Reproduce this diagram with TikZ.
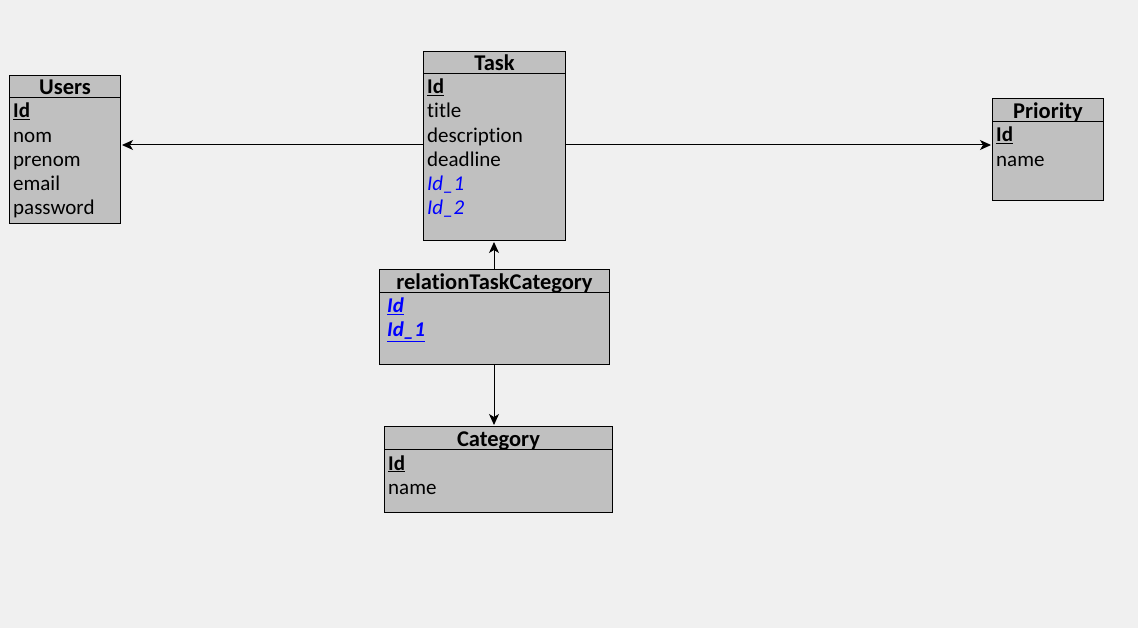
\documentclass[tikz,border=0pt]{standalone}
\usepackage{fontspec}
\setmainfont{Carlito}[Ligatures={NoCommon}]
\usetikzlibrary{arrows.meta}
\definecolor{bgcol}{HTML}{F0F0F0}
\definecolor{boxcol}{HTML}{C0C0C0}
\definecolor{fkcol}{HTML}{0000FF}
\tikzset{
  tbl/.style={draw=black,fill=boxcol,anchor=north west,inner sep=0pt,line width=1pt},
  ttl/.style={font=\fontsize{22.5}{24}\selectfont\bfseries,inner sep=0pt,anchor=base},
  fld/.style={font=\fontsize{21}{24}\selectfont,anchor=base west,inner sep=0pt},
  fk/.style={fld,text=fkcol},
  link/.style={draw=black,line width=1pt,shorten >=1pt,-{Stealth[length=11pt,width=10pt,inset=3pt]}}
}
\begin{document}
\begin{tikzpicture}[x=1pt,y=-1pt]
  \fill[bgcol] (0,0) rectangle (1138,628);
  \useasboundingbox (0,0) rectangle (1138,628);
  % Users
  \node[tbl,minimum width=111pt,minimum height=148pt] (users) at (9,75) {};
  \draw[line width=1pt] ([yshift=-23pt]users.north west) -- ([yshift=-23pt]users.north east);
  \node[ttl] (users-t) at ([yshift=-20pt]users.north) {Users};
  \node[fld] (users-1) at (13,118) {\underline{\textbf{Id}}};
  \node[fld] (users-2) at (13,143) {nom};
  \node[fld] (users-3) at (13,167) {prenom};
  \node[fld] (users-4) at (13,191) {email};
  \node[fld] (users-5) at (13,215) {password};
  % Task
  \node[tbl,minimum width=142pt,minimum height=189pt] (task) at (423,51) {};
  \draw[line width=1pt] ([yshift=-23pt]task.north west) -- ([yshift=-23pt]task.north east);
  \node[ttl] (task-t) at ([yshift=-20pt]task.north) {Task};
  \node[fld] (task-1) at (427,94) {\underline{\textbf{Id}}};
  \node[fld] (task-2) at (427,118) {title};
  \node[fld] (task-3) at (427,143) {description};
  \node[fld] (task-4) at (427,167) {deadline};
  \node[fk] (task-5) at (427,191) {\itshape Id\_1};
  \node[fk] (task-6) at (427,215) {\itshape Id\_2};
  % Priority
  \node[tbl,minimum width=111pt,minimum height=102pt] (prio) at (992,98) {};
  \draw[line width=1pt] ([yshift=-24pt]prio.north west) -- ([yshift=-24pt]prio.north east);
  \node[ttl] (prio-t) at ([yshift=-21pt]prio.north) {Priority};
  \node[fld] (prio-1) at (996,142) {\underline{\textbf{Id}}};
  \node[fld] (prio-2) at (996,167) {name};
  % relationTaskCategory
  \node[tbl,minimum width=230pt,minimum height=95pt] (rel) at (379,269) {};
  \draw[line width=1pt] ([yshift=-24pt]rel.north west) -- ([yshift=-24pt]rel.north east);
  \node[ttl] (rel-t) at ([yshift=-21pt]rel.north) {relationTaskCategory};
  \node[fk] (rel-1) at (387,313) {\underline{\bfseries\itshape Id}};
  \node[fk] (rel-2) at (387,337) {\underline{\bfseries\itshape Id\_1}};
  % Category
  \node[tbl,minimum width=228pt,minimum height=86pt] (cat) at (384,426) {};
  \draw[line width=1pt] ([yshift=-23pt]cat.north west) -- ([yshift=-23pt]cat.north east);
  \node[ttl] (cat-t) at ([yshift=-20pt]cat.north) {Category};
  \node[fld] (cat-1) at (388,470) {\underline{\textbf{Id}}};
  \node[fld] (cat-2) at (388,494) {name};
  % links
  \draw[link] (task.west |- 0,145) -- (users.east |- 0,145);
  \draw[link] (task.east |- 0,145) -- (prio.west |- 0,145);
  \draw[link] (rel.north -| 494,0) -- (task.south -| 494,0);
  \draw[link] (rel.south -| 494,0) -- (cat.north -| 494,0);
\end{tikzpicture}
\end{document}
